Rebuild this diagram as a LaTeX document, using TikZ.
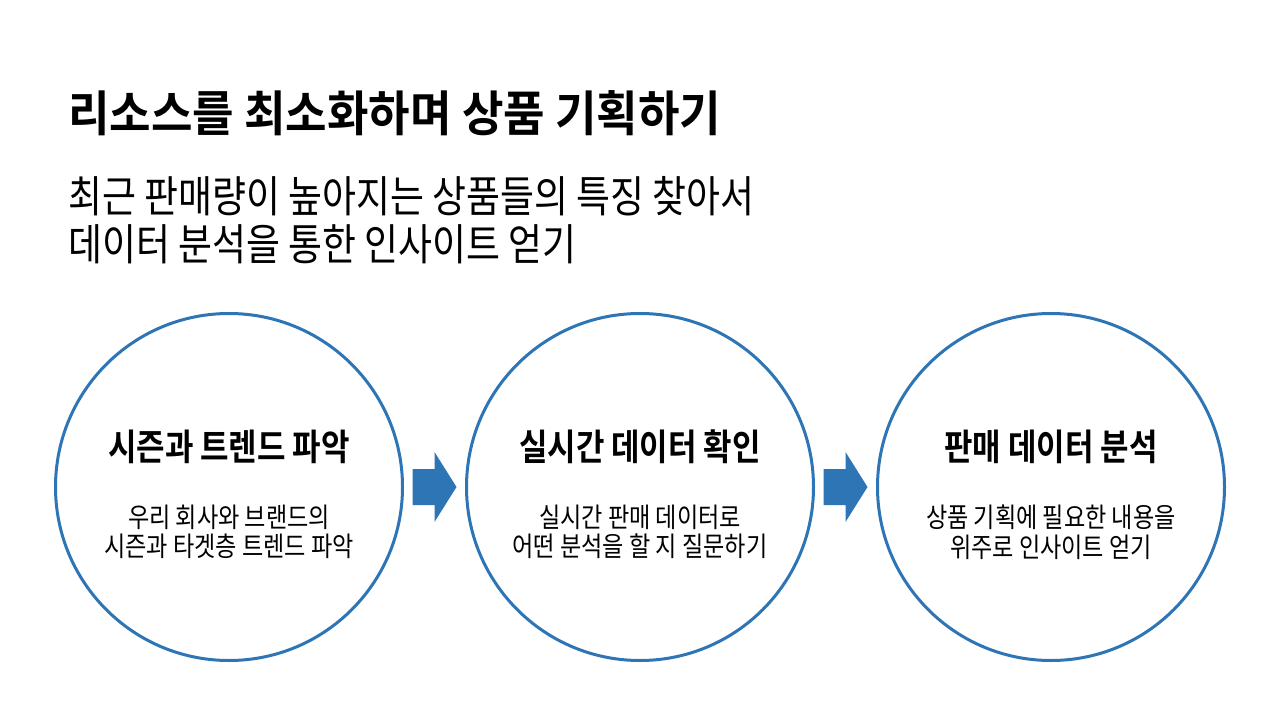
\documentclass[tikz,border=0pt]{standalone}
\usepackage{fontspec}
\setmainfont{Noto Sans CJK KR}[FakeStretch=0.85, BoldFont=* Bold]
\newfontfamily\titlefont{Noto Sans CJK KR Bold}[FakeStretch=0.93]
\usetikzlibrary{calc}
\definecolor{ringblue}{HTML}{2E75B6}
\def\blockarrow(#1){\fill[ringblue] ($(#1)+(-22,-18)$) -- ($(#1)+(0,-18)$) -- ($(#1)+(0,-35)$) -- ($(#1)+(22,0)$) -- ($(#1)+(0,35)$) -- ($(#1)+(0,18)$) -- ($(#1)+(-22,18)$) -- cycle;}
\tikzset{
	ring/.style={circle, draw=ringblue, line width=3pt, minimum size=347pt, inner sep=0pt},
	head/.style={inner sep=0pt, font=\fontsize{36.4}{40}\selectfont\bfseries},
	body/.style={inner sep=0pt, align=center, font=\fontsize{27.2}{29.5}\selectfont}
}

\begin{document}
\begin{tikzpicture}[x=1pt, y=-1pt]
			%%%%% START %%%%%
			
			\useasboundingbox[fill=white] (0, 0) rectangle (1280, 720);
			
			\node[anchor=west, inner sep=0pt, font=\fontsize{48.5}{52}\titlefont] (title) at (68, 113) {리소스를 최소화하며 상품 기획하기};
			\node[anchor=west, inner sep=0pt, align=left, font=\fontsize{43.4}{47.5}\selectfont] (sub) at (68, 220) {최근 판매량이 높아지는 상품들의 특징 찾아서\\데이터 분석을 통한 인사이트 얻기};
			
			\node[ring] (c1) at (229, 487) {};
			\node[ring] (c2) at (640, 487) {};
			\node[ring] (c3) at (1051, 487) {};
			
			\node[head] (h1) at (229, 447) {시즌과 트렌드 파악};
			\node[body] (b1) at (229, 532) {우리 회사와 브랜드의\\시즌과 타겟층 트렌드 파악};
			
			\node[head] (h2) at (640, 447) {실시간 데이터 확인};
			\node[body] (b2) at (640, 532) {실시간 판매 데이터로\\어떤 분석을 할 지 질문하기};
			
			\node[head] (h3) at (1051, 447) {판매 데이터 분석};
			\node[body] (b3) at (1051, 532) {상품 기획에 필요한 내용을\\위주로 인사이트 얻기};
			
			\coordinate (a1) at ($(c1)!0.5!(c2)$);
			\coordinate (a2) at ($(c2)!0.5!(c3)$);
			\blockarrow(a1)
			\blockarrow(a2)
			
			%%%%% END %%%%%
		\end{tikzpicture}
\end{document}
